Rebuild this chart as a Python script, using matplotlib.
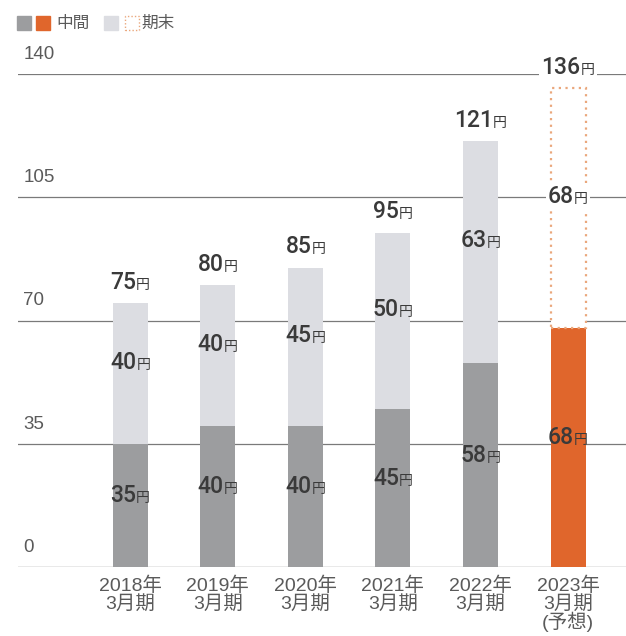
import matplotlib
matplotlib.use("Agg")
import matplotlib.pyplot as plt
from matplotlib.offsetbox import AnnotationBbox, HPacker, TextArea
from matplotlib.patches import Rectangle

FAMILY = ["Liberation Sans", "Noto Sans CJK JP", "DejaVu Sans"]
plt.rcParams["font.family"] = FAMILY

# --- data ---
periods = ["2018年\n3月期", "2019年\n3月期", "2020年\n3月期", "2021年\n3月期", "2022年\n3月期", "2023年\n3月期\n(予想)"]
interim = [35, 40, 40, 45, 58, 68]
final = [40, 40, 45, 50, 63, 68]
totals = [75, 80, 85, 95, 121, 136]
yticks = [0, 35, 70, 105, 140]

GRAY = "#9c9d9f"
LIGHT = "#dcdde2"
ORANGE = "#e0662c"
OUTLINE = "#eaa77c"
TXT = "#3a3a3a"
TICK_TXT = "#5a5a5a"
WIDTH = 0.40

fig = plt.figure(figsize=(6.26, 6.36), dpi=100)
ax = fig.add_axes([0.029, 0.1085, 0.971, 0.775])
ax.set_xlim(-1.279, 5.662)
ax.set_ylim(0, 140)


def yen_label(x, y, value, offset=(0, 0), box=False):
    num = TextArea(str(value), textprops=dict(fontsize=16.5, color=TXT, family="Roboto", fontweight="medium"))
    unit = TextArea("円", textprops=dict(fontsize=10, color=TXT, family="Noto Sans CJK JP"))
    pack = HPacker(children=[num, unit], align="baseline", pad=0, sep=0)
    ab = AnnotationBbox(pack, (x, y), xybox=offset, boxcoords="offset points",
                        frameon=box, pad=0.15, box_alignment=(0.5, 0.5),
                        bboxprops=dict(facecolor="white", edgecolor="none"), zorder=5)
    ax.add_artist(ab)


# gridlines behind bars
for t in yticks:
    ax.axhline(t, color="#7a7a7a" if t else "#555555", lw=0.9, zorder=0)
    ax.text(-1.22, t + 3.2, str(t), fontsize=13.5, color=TICK_TXT, va="bottom", ha="left")

n = len(periods)
for i in range(n):
    forecast = i == n - 1
    ax.bar(i, interim[i], width=WIDTH, color=ORANGE if forecast else GRAY, zorder=2)
    if forecast:
        ax.add_patch(Rectangle((i - WIDTH / 2, interim[i]), WIDTH, final[i], facecolor="white",
                               edgecolor=OUTLINE, linestyle=(0, (1, 2)), lw=1.6, zorder=2))
    else:
        ax.bar(i, final[i], bottom=interim[i], width=WIDTH, color=LIGHT, zorder=2)

    yen_label(i, interim[i] / 2, interim[i], offset=(0, 7))
    yen_label(i, interim[i] + final[i] / 2, final[i], offset=(0, 8), box=forecast)
    yen_label(i, totals[i], totals[i], offset=(0, 15), box=forecast)

ax.set_xticks(range(n))
ax.set_xticklabels(periods, fontsize=14, color=TICK_TXT, linespacing=0.95)
ax.tick_params(axis="x", length=0, pad=7)
ax.set_yticks([])
for s in ax.spines.values():
    s.set_visible(False)

# legend
fig.patches.extend([
    Rectangle((17, 636 - 30), 14, 14, transform=None, color=GRAY),
    Rectangle((36, 636 - 30), 14, 14, transform=None, color=ORANGE),
    Rectangle((104, 636 - 30), 14, 14, transform=None, color=LIGHT),
    Rectangle((125, 636 - 30), 14, 14, transform=None, facecolor="white",
              edgecolor=OUTLINE, linestyle=(0, (1, 1.5)), lw=1.0),
])
fig.text(56 / 626, 1 - 23 / 636, "中間", fontsize=12, color=TICK_TXT, va="center")
fig.text(141 / 626, 1 - 23 / 636, "期末", fontsize=12, color=TICK_TXT, va="center")

fig.savefig("out.png", dpi=100)
